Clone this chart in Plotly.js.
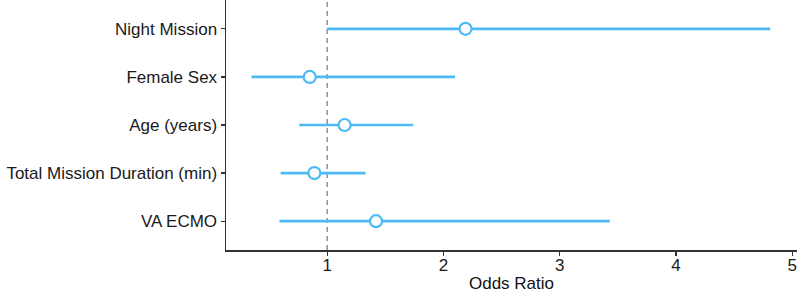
<!DOCTYPE html>
<html>
<head>
<meta charset="utf-8">
<script src="https://cdn.plot.ly/plotly-3.0.1.min.js"></script>
<style>html,body{margin:0;padding:0;background:#fff;}#chart{width:797px;height:293px;}</style>
</head>
<body>
<div id="chart"></div>
<script>
const categories = ["Night Mission", "Female Sex", "Age (years)", "Total Mission Duration (min)", "VA ECMO"];
const oddsRatio = [2.19, 0.85, 1.15, 0.89, 1.42];
const ciLower = [1.00, 0.35, 0.76, 0.60, 0.59];
const ciUpper = [4.81, 2.10, 1.74, 1.33, 3.43];
const xTicks = [1, 2, 3, 4, 5];
const referenceOR = 1;

const blue = "rgb(77,185,245)";
const trace = {
  type: "scatter",
  mode: "markers",
  x: oddsRatio,
  y: categories,
  error_x: {
    type: "data",
    symmetric: false,
    array: oddsRatio.map((v, i) => ciUpper[i] - v),
    arrayminus: oddsRatio.map((v, i) => v - ciLower[i]),
    color: blue,
    thickness: 2.6,
    width: 0
  },
  marker: {symbol: "circle", size: 12, color: "#ffffff", line: {color: blue, width: 2.2}},
  hoverinfo: "x+y",
  showlegend: false
};

const layout = {
  width: 797, height: 293,
  margin: {l: 226, r: 0, t: 0, b: 43},
  paper_bgcolor: "#fff", plot_bgcolor: "#fff",
  font: {family: "Liberation Sans, Arial, sans-serif", size: 17, color: "#1a1a1a"},
  xaxis: {
    range: [0.13, 5.04],
    tickvals: xTicks,
    ticktext: xTicks.map(String),
    showgrid: false, zeroline: false,
    showline: true, linecolor: "#333", linewidth: 1.5,
    ticks: "outside", ticklen: 4, tickcolor: "#333", tickwidth: 1.2,
    tickfont: {size: 17, color: "#1a1a1a"},
    ticklabeloverflow: "allow",
    ticklabelstandoff: -5,
    title: {text: "Odds Ratio", font: {size: 17, color: "#111"}, standoff: 7}
  },
  yaxis: {
    type: "category",
    categoryorder: "array", categoryarray: categories,
    range: [4.6, -0.6],
    showgrid: false, zeroline: false,
    showline: true, linecolor: "#333", linewidth: 1.5,
    ticks: "outside", ticklen: 4, tickcolor: "#333", tickwidth: 1.2,
    tickfont: {size: 17, color: "#1a1a1a"}
  },
  shapes: [{
    type: "line", xref: "x", yref: "paper",
    x0: referenceOR, x1: referenceOR, y0: 0, y1: 1,
    line: {color: "#909090", width: 1.5, dash: "5px,4px"},
    layer: "below"
  }]
};

Plotly.newPlot("chart", [trace], layout, {displayModeBar: false, staticPlot: true});
</script>
</body>
</html>
